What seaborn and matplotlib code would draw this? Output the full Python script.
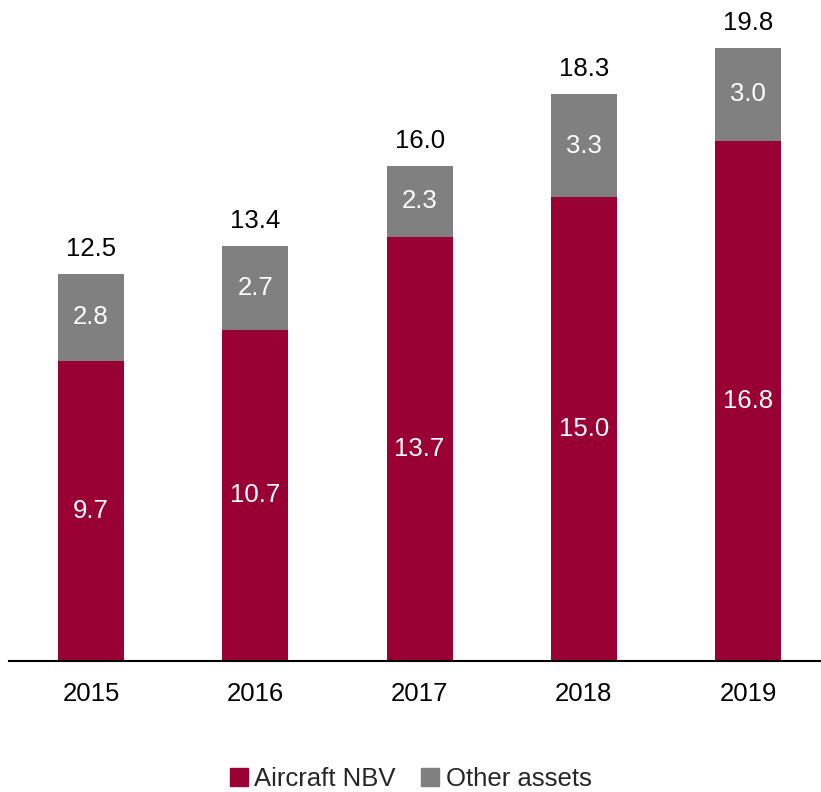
import matplotlib
matplotlib.use("Agg")
import matplotlib.pyplot as plt
from matplotlib.patches import Patch
import seaborn as sns
import pandas as pd

years = ["2015", "2016", "2017", "2018", "2019"]
aircraft_nbv = [9.7, 10.7, 13.7, 15.0, 16.8]
other_assets = [2.8, 2.7, 2.3, 3.3, 3.0]
totals = [12.5, 13.4, 16.0, 18.3, 19.8]

CRIMSON = "#990033"
GREY = "#808080"

sns.set_theme(style="white")
plt.rcParams["font.family"] = ["Liberation Sans", "DejaVu Sans"]

df = pd.DataFrame({"year": years, "aircraft": aircraft_nbv,
                   "other": other_assets, "total": totals})

W, H = 821, 792
fig = plt.figure(figsize=(W / 100, H / 100), dpi=100)
ax = fig.add_axes([9 / W, 1 - 661 / H, (821 - 9) / W, 661 / H])

# stacked bars: full height in grey, aircraft portion in crimson on top of it
sns.barplot(data=df, x="year", y="total", color=GREY, width=0.402,
            saturation=1, ax=ax, linewidth=0)
sns.barplot(data=df, x="year", y="aircraft", color=CRIMSON, width=0.402,
            saturation=1, ax=ax, linewidth=0)

ax.set_xlim(-0.5, 4.444)
ax.set_ylim(0, 21.35)

fs = 18.5
for i, (a, o, t) in enumerate(zip(aircraft_nbv, other_assets, totals)):
    ax.text(i, a / 2, f"{a:.1f}", ha="center", va="center", color="white", fontsize=fs)
    ax.text(i, a + o / 2, f"{o:.1f}", ha="center", va="center", color="white", fontsize=fs)
    ax.annotate(f"{t:.1f}", (i, t), xytext=(0, 18), textcoords="offset points",
                ha="center", va="center", color="black", fontsize=fs)

ax.set_xlabel("")
ax.set_ylabel("")
ax.set_yticks([])
for side in ["left", "right", "top"]:
    ax.spines[side].set_visible(False)
ax.spines["bottom"].set_color("black")
ax.spines["bottom"].set_linewidth(1.5)
ax.tick_params(axis="x", length=0, labelsize=fs, pad=15, colors="black")

handles = [Patch(color=CRIMSON, label="Aircraft NBV"),
           Patch(color=GREY, label="Other assets")]
fig.legend(handles=handles, loc="center", bbox_to_anchor=(0.5, 1 - 779 / H),
           ncol=2, frameon=False, fontsize=fs, handlelength=0.7, handleheight=0.7,
           handletextpad=0.25, columnspacing=1.0)

fig.savefig("out.png", dpi=100)
